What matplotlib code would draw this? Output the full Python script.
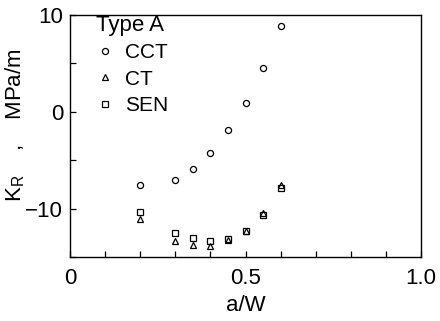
import matplotlib
matplotlib.use("Agg")
import matplotlib.pyplot as plt
from matplotlib.ticker import MultipleLocator, FixedLocator

plt.rcParams['font.family'] = ['Liberation Sans', 'DejaVu Sans']

aw = [0.2, 0.3, 0.35, 0.4, 0.45, 0.5, 0.55, 0.6]
cct = [-7.5, -7.0, -5.9, -4.2, -1.9, 0.9, 4.5, 8.9]
ct = [-11.1, -13.3, -13.75, -13.8, -13.2, -12.3, -10.45, -7.6]
sen = [-10.3, -12.5, -13.05, -13.3, -13.1, -12.3, -10.7, -7.9]

fig = plt.figure(figsize=(4.4, 3.21), dpi=100)
ax = fig.add_axes([0.159, 0.199, 0.798, 0.754])

ax.plot(aw, cct, 'o', ms=4.4, mfc='none', mec='black', mew=0.9, label='CCT')
ax.plot(aw, ct, '^', ms=5.0, mfc='none', mec='black', mew=0.9, label='CT')
ax.plot(aw, sen, 's', ms=4.4, mfc='none', mec='black', mew=0.9, label='SEN')

ax.set_xlim(0, 1.0)
ax.set_ylim(-15, 10)
ax.xaxis.set_major_locator(FixedLocator([0, 0.5, 1.0]))
ax.xaxis.set_minor_locator(MultipleLocator(0.1))
ax.yaxis.set_major_locator(FixedLocator([-10, 0, 10]))
ax.yaxis.set_minor_locator(MultipleLocator(5))
ax.set_xticklabels(['0', '0.5', '1.0'])
ax.set_yticklabels(['\u221210', '0', '10'])
ax.tick_params(which='both', direction='in', length=4, width=0.9, labelsize=16, top=False, right=False)
ax.tick_params(axis='x', pad=8)
ax.tick_params(axis='y', pad=5)
for s in ax.spines.values():
    s.set_linewidth(1.0)

ax.set_xlabel('a/W', fontsize=16, labelpad=4)
fig.text(0.035, 0.61, 'K$_\\mathregular{R}$    ,    MPa/m', rotation=90, fontsize=16,
         ha='center', va='center')

leg = ax.legend(title='Type A', loc='upper left', frameon=False, fontsize=15,
                title_fontsize=16, handlelength=0.8, handletextpad=0.6, borderaxespad=0.0,
                borderpad=0.0, labelspacing=0.35, alignment='left', bbox_to_anchor=(0.075, 1.0))

fig.savefig('out.png', dpi=100)
